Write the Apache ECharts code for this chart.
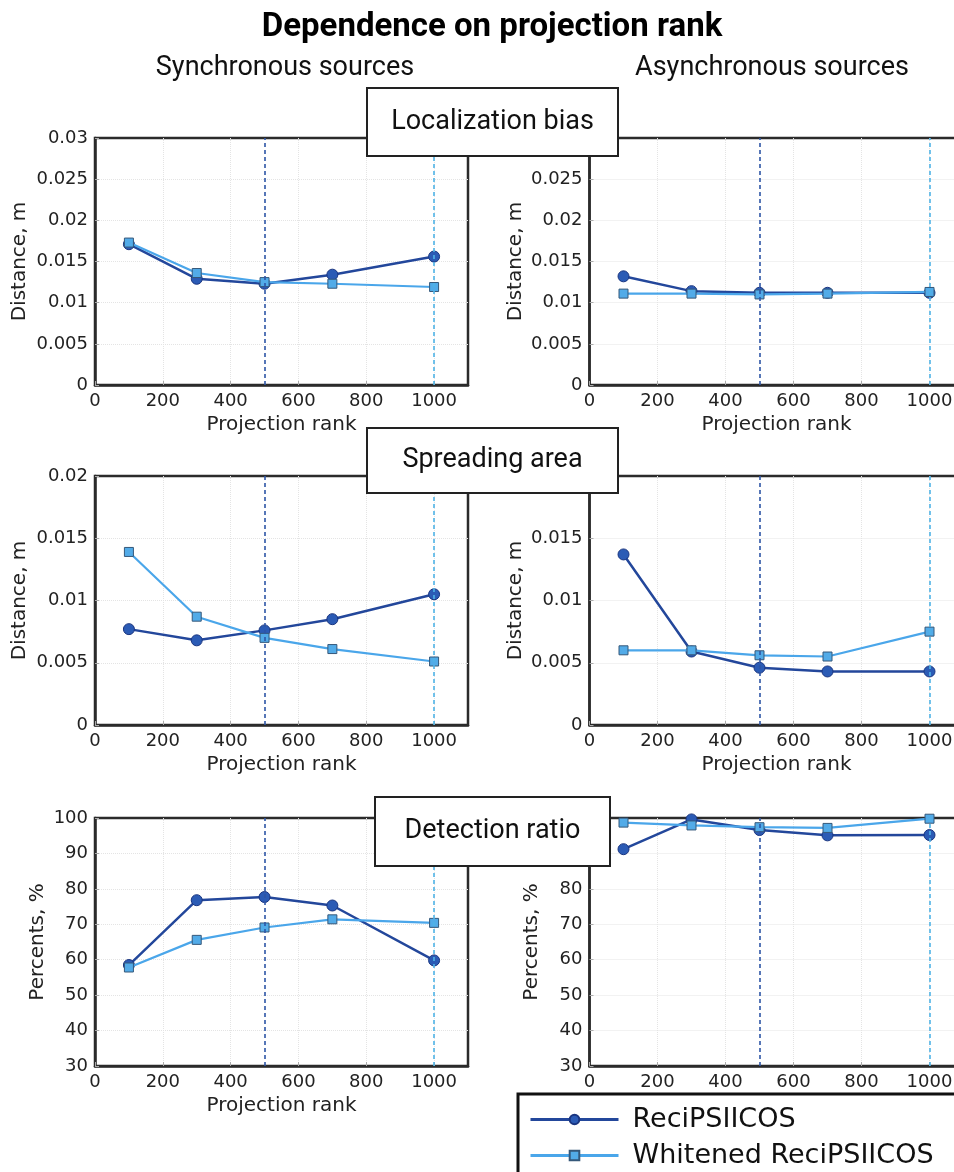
<!DOCTYPE html>
<html>
<head>
<meta charset="utf-8">
<script src="https://cdn.jsdelivr.net/npm/echarts@6/dist/echarts.min.js"></script>
<style>
html,body{margin:0;padding:0;background:#fff;}
#chart{width:954px;height:1172px;}
</style>
</head>
<body>
<div id="chart"></div>
<script>
// ---- data ----
const ranks = [100, 300, 500, 700, 1000];
const markerRanks = [500, 1000];
const seriesNames = ['ReciPSIICOS', 'Whitened ReciPSIICOS'];

const syncBiasReci = [0.0171, 0.0129, 0.0123, 0.0134, 0.0156];
const syncBiasWht  = [0.0173, 0.0136, 0.0125, 0.0123, 0.0119];
const asyncBiasReci = [0.0132, 0.0114, 0.0112, 0.0112, 0.0112];
const asyncBiasWht  = [0.0111, 0.0111, 0.0110, 0.0111, 0.0113];

const syncSpreadReci = [0.0077, 0.0068, 0.0076, 0.0085, 0.0105];
const syncSpreadWht  = [0.0139, 0.0087, 0.0070, 0.0061, 0.0051];
const asyncSpreadReci = [0.0137, 0.0059, 0.0046, 0.0043, 0.0043];
const asyncSpreadWht  = [0.0060, 0.0060, 0.0056, 0.0055, 0.0075];

const syncDetReci = [58.5, 76.8, 77.7, 75.3, 59.8];
const syncDetWht  = [57.8, 65.6, 69.1, 71.4, 70.4];
const asyncDetReci = [91.2, 99.6, 96.6, 95.1, 95.2];
const asyncDetWht  = [98.7, 97.9, 97.4, 97.2, 99.8];

const mainTitle = 'Dependence on projection rank';
const columnTitles = ['Synchronous sources', 'Asynchronous sources'];
const rowTitles = ['Localization bias', 'Spreading area', 'Detection ratio'];
const xName = 'Projection rank';
const yNames = ['Distance, m', 'Distance, m', 'Percents, %'];
const yRanges = [[0, 0.03, 0.005], [0, 0.02, 0.005], [30, 100, 10]];
const xRange = [0, 1100, 200];

// ---- styling / layout ----
const DARK = '#23479b', DARK_FILL = '#2b5bb5', DARK_EDGE = '#1a3580';
const LIGHT = '#4aa6ea', LIGHT_FILL = '#52abe8', LIGHT_EDGE = '#35587a';
const VDARK = '#2d55a6', VLIGHT = '#4fb3e6';
const tickFont = 'DejaVu Sans';

const colLeft = [95, 589.5];
const colWidth = [373, 374];
const rowTop = [138, 476, 818];
const rowHeight = [247, 249, 248];
const yNameGap = [[65, 65, 47], [64, 64, 48]];

const panels = [
  [syncBiasReci, syncBiasWht], [asyncBiasReci, asyncBiasWht],
  [syncSpreadReci, syncSpreadWht], [asyncSpreadReci, asyncSpreadWht],
  [syncDetReci, syncDetWht], [asyncDetReci, asyncDetWht]
];

const grids = [], xAxes = [], yAxes = [], series = [];
panels.forEach((p, i) => {
  const row = Math.floor(i / 2), col = i % 2;
  grids.push({
    left: colLeft[col], top: rowTop[row], width: colWidth[col], height: rowHeight[row],
    outerBoundsMode: 'none', containLabel: false,
    show: true, borderColor: '#2b2b2b', borderWidth: 2.5, backgroundColor: '#fff'
  });
  xAxes.push({
    type: 'value', gridIndex: i, min: xRange[0], max: xRange[1], interval: xRange[2],
    name: xName, nameLocation: 'middle', nameGap: 30,
    nameTextStyle: {fontFamily: tickFont, fontSize: 20, color: '#222'},
    axisLine: {show: true, onZero: false, lineStyle: {color: '#2b2b2b', width: 2.5}},
    axisTick: {show: true, inside: true, length: 4, lineStyle: {color: '#aaa'}},
    axisLabel: {fontFamily: tickFont, fontSize: 18, color: '#222', margin: 7, showMaxLabel: false,
      formatter: v => String(v)},
    splitLine: {show: true, showMinLine: false, showMaxLine: false,
      lineStyle: {color: '#e4e4e4', type: 'dotted', width: 1}}
  });
  const yr = yRanges[row];
  yAxes.push({
    type: 'value', gridIndex: i, min: yr[0], max: yr[1], interval: yr[2],
    name: yNames[row], nameLocation: 'middle', nameGap: yNameGap[col][row], nameRotate: 90,
    nameTextStyle: {fontFamily: tickFont, fontSize: 20, color: '#222'},
    axisLine: {show: true, lineStyle: {color: '#2b2b2b', width: 2.5}},
    axisTick: {show: true, inside: true, length: 4, lineStyle: {color: '#aaa'}},
    axisLabel: {fontFamily: tickFont, fontSize: 18, color: '#222', margin: 7},
    splitLine: {show: true, showMinLine: false, showMaxLine: false,
      lineStyle: {color: '#e4e4e4', type: 'dotted', width: 1}}
  });
  series.push({
    name: seriesNames[0], type: 'line', xAxisIndex: i, yAxisIndex: i,
    data: ranks.map((r, k) => [r, p[0][k]]),
    symbol: 'circle', symbolSize: 11,
    lineStyle: {color: DARK, width: 2.5},
    itemStyle: {color: DARK_FILL, borderColor: DARK_EDGE, borderWidth: 1},
    z: 3,
    markLine: {
      silent: true, symbol: ['none', 'none'], label: {show: false},
      lineStyle: {type: [4, 3], width: 1.6},
      data: [
        {xAxis: markerRanks[0], lineStyle: {color: VDARK}},
        {xAxis: markerRanks[1], lineStyle: {color: VLIGHT}}
      ]
    }
  });
  series.push({
    name: seriesNames[1], type: 'line', xAxisIndex: i, yAxisIndex: i,
    data: ranks.map((r, k) => [r, p[1][k]]),
    symbol: 'rect', symbolSize: 9,
    lineStyle: {color: LIGHT, width: 2.2},
    itemStyle: {color: LIGHT_FILL, borderColor: LIGHT_EDGE, borderWidth: 1},
    z: 4
  });
});

// title boxes
const boxes = [
  {x: 367, y: 88, w: 251, h: 68},
  {x: 367, y: 428, w: 251, h: 65},
  {x: 375, y: 797, w: 235, h: 69}
];

const option = {
  backgroundColor: '#fff',
  animation: false,
  title: [
    {text: mainTitle, left: 492, top: 28, textAlign: 'center', textVerticalAlign: 'middle',
      textStyle: {fontFamily: 'Roboto', fontWeight: 'bold', fontSize: 33, color: '#000'}, padding: 0},
    {text: columnTitles[0], left: 285, top: 68, textAlign: 'center', textVerticalAlign: 'middle',
      textStyle: {fontFamily: 'Roboto', fontWeight: 'normal', fontSize: 27, color: '#111'}, padding: 0},
    {text: columnTitles[1], left: 772, top: 68, textAlign: 'center', textVerticalAlign: 'middle',
      textStyle: {fontFamily: 'Roboto', fontWeight: 'normal', fontSize: 27, color: '#111'}, padding: 0}
  ],
  legend: {
    data: seriesNames, orient: 'vertical', left: 518, top: 1094, height: 120, width: 460,
    itemWidth: 88, itemHeight: 12, itemGap: 9,
    padding: [12, 80, 40, 11],
    borderColor: '#111', borderWidth: 3, backgroundColor: '#fff',
    lineStyle: {width: 3},
    textStyle: {fontFamily: tickFont, fontSize: 27, color: '#111', padding: [0, 0, 0, 9]},
    z: 50
  },
  grid: grids, xAxis: xAxes, yAxis: yAxes, series: series,
  graphic: boxes.map((b, k) => ({
    type: 'group', z: 100, children: [
      {type: 'rect', z: 100, shape: {x: b.x, y: b.y, width: b.w, height: b.h},
        style: {fill: '#fff', stroke: '#222', lineWidth: 2}},
      {type: 'text', z: 101, x: b.x + b.w / 2, y: b.y + b.h / 2,
        style: {text: rowTitles[k], font: '27px Roboto', fill: '#111', align: 'center', verticalAlign: 'middle'}}
    ]
  }))
};
const chart = echarts.init(document.getElementById('chart'), null, {renderer: 'canvas'});
chart.setOption(option);
</script>
</body>
</html>
